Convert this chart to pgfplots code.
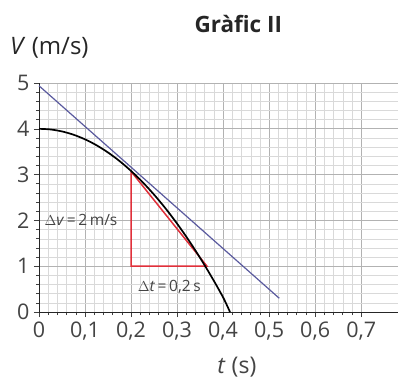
\documentclass[border=0pt]{standalone}
\usepackage{fontspec}
\setmainfont{Open Sans}
\usepackage{pgfplots}
\pgfplotsset{compat=1.18}
\definecolor{txt}{HTML}{444444}
\definecolor{bl}{HTML}{5A5A9E}
\definecolor{rd}{HTML}{E0303A}
\begin{document}
\begin{tikzpicture}
\useasboundingbox (-39pt,-69pt) rectangle (359pt,312pt);
\begin{axis}[
  at={(0,0)}, anchor=south west,
  scale only axis, width=359pt, height=229pt,
  xmin=0, xmax=0.78, ymin=0, ymax=5,
  xtick={0,0.1,0.2,0.3,0.4,0.5,0.6,0.7},
  ytick={0,1,2,3,4,5},
  minor x tick num=4, minor y tick num=4,
  grid=both,
  major grid style={gray!60, line width=0.9pt},
  minor grid style={gray!30, line width=0.4pt},
  axis lines=left, axis line style={-, black!85, line width=0.9pt},
  tick align=outside,
  major tick length=5pt, minor tick length=3pt,
  tick style={black!75, line width=0.6pt},
  /pgf/number format/assume math mode=true,
  /pgf/number format/use comma,
  /pgf/number format/fixed,
  ticklabel style={font=\fontsize{21.5}{24}\selectfont, text=txt},
  xticklabel style={yshift=-1pt},
  yticklabel style={xshift=-1pt},
  clip=false,
]
\addplot[rd, line width=1.5pt] coordinates {(0.2,3.07) (0.2,1) (0.365,1) (0.2,3.07)};
\addplot[bl, line width=1.2pt] coordinates {(0,4.94) (0.522,0.3)};
\addplot[black, line width=1.7pt, smooth] coordinates {
(0,4) (0.025,3.986) (0.05,3.9425) (0.075,3.871) (0.1,3.77) (0.125,3.641)
(0.15,3.4825) (0.175,3.296) (0.2,3.08) (0.225,2.836) (0.25,2.5625)
(0.275,2.261) (0.3,1.93) (0.325,1.571) (0.35,1.1825) (0.375,0.766)
(0.4,0.32) (0.415,0.0)};
\node[text=txt, font=\fontsize{15.5}{18}\selectfont, anchor=west, inner sep=0pt] at (axis cs:0.012,2) {$\Delta$\textit{v}\,=\,2\,m/s};
\node[text=txt, font=\fontsize{15.5}{18}\selectfont, inner sep=0pt] at (axis cs:0.283,0.55) {$\Delta$\textit{t}\,=\,0,2\,s};
\node[text=black!85, font=\bfseries\fontsize{22.5}{26}\selectfont] at (axis cs:0.433,5) [yshift=59pt] {Gràfic II};
\node[text=black!85, font=\fontsize{24}{28}\selectfont, anchor=west, inner sep=0pt] at (axis cs:0,5) [xshift=-29pt, yshift=35pt] {\textit{V} (m/s)};
\node[text=txt, font=\fontsize{23}{27}\selectfont, inner sep=0pt] at (axis cs:0.43,0) [yshift=-55pt] {\textit{t} (s)};
\end{axis}
\end{tikzpicture}
\end{document}
